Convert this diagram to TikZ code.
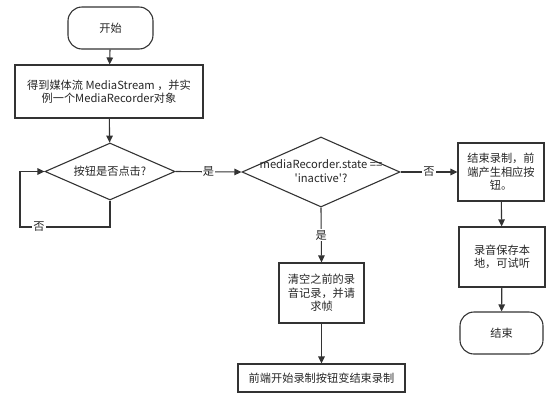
\documentclass[tikz,border=0pt]{standalone}
\usepackage{fontspec}
\setmainfont{Noto Sans CJK SC}
\usetikzlibrary{shapes.geometric,arrows.meta}
\begin{document}
\begin{tikzpicture}[x=1pt,y=-1pt,
  every node/.style={font=\fontsize{11.2}{13.5}\selectfont, text=black!85},
  box/.style={draw=black!80, line width=1.1pt, inner sep=0pt, align=center},
  term/.style={box, rounded corners=14pt},
  dec/.style={draw=black!80, line width=1.1pt, diamond, inner sep=0pt},
  arr/.style={draw=black!80, line width=1.1pt, -{Triangle[length=7pt,width=6.5pt]}},
  lab/.style={fill=white, inner sep=1pt}]
\useasboundingbox (0,0) rectangle (554,405);
\node[term, minimum width=85pt, minimum height=42pt] (start) at (110.5,28) {开始};
\node[box, minimum width=188pt, minimum height=53pt] (get) at (109,91.5) {得到媒体流 MediaStream ，并实\\例一个MediaRecorder对象};
\node[dec, minimum width=130pt, minimum height=57pt] (d1) at (110,171.5) {};
\node at (d1) {按钮是否点击?};
\node[dec, minimum width=158pt, minimum height=70pt] (d2) at (321,172) {};
\node[align=center] at (321,171) {mediaRecorder.state ==\\\textquotesingle inactive\textquotesingle?};
\node[box, minimum width=86pt, minimum height=58pt] (stop) at (501,172) {结束录制，前\\端产生相应按\\钮。};
\node[box, minimum width=86pt, minimum height=60pt] (save) at (502,257) {录音保存本\\地，可试听};
\node[term, minimum width=83pt, minimum height=42pt] (end) at (501.5,333) {结束};
\node[box, minimum width=85pt, minimum height=60pt] (clear) at (321.5,293) {清空之前的录\\音记录，并请\\求帧};
\node[box, minimum width=167pt, minimum height=28pt] (front) at (321.5,378) {前端开始录制按钮变结束录制};
\coordinate (c1) at (20,227);
\draw[arr] (start) -- (get);
\draw[arr] (get) -- (d1);
\draw[arr] (d1.south) |- (c1) |- (d1.west);
\node[lab] at (39,227) {否};
\draw[arr] (d1.east) -- node[lab] {是} (d2.west);
\draw[arr] (d2.east) -- node[lab, pos=0.5] {否} (stop.west);
\draw[arr] (d2.south) -- node[lab, pos=0.5] {是} (clear.north);
\draw[arr] (stop) -- (save);
\draw[arr] (save) -- (end);
\draw[arr] (clear) -- (front);
\end{tikzpicture}
\end{document}
